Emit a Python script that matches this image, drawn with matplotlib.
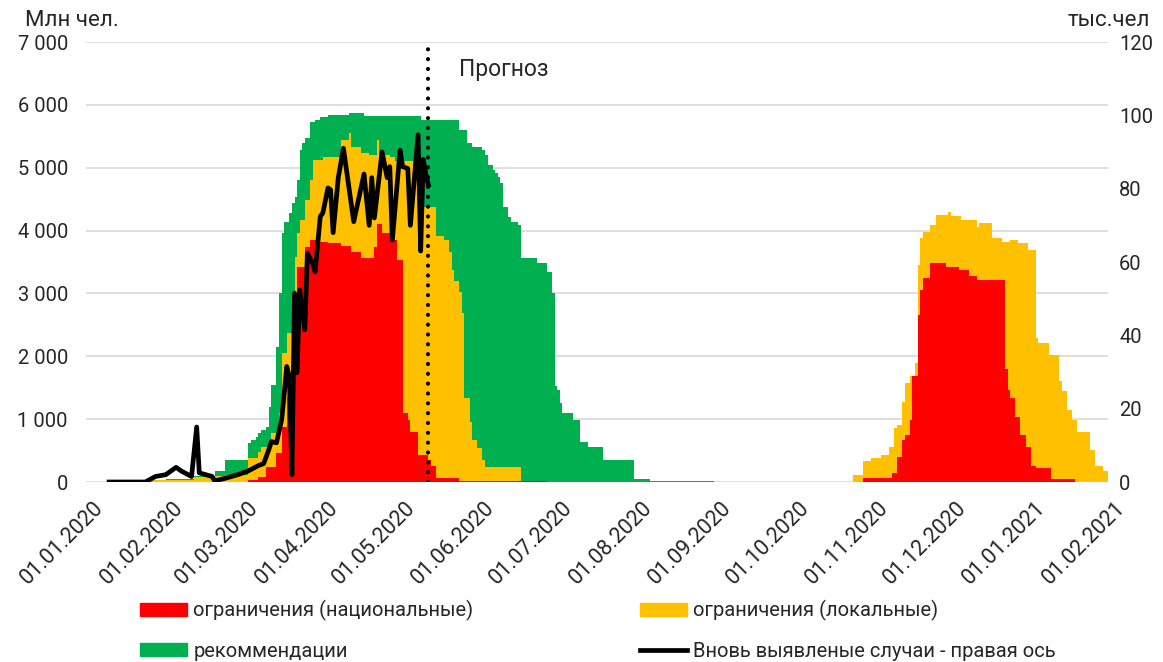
import numpy as np
import pandas as pd
import matplotlib
matplotlib.use('Agg')
import matplotlib.pyplot as plt
import matplotlib.transforms as mtransforms
from matplotlib.ticker import FuncFormatter
from matplotlib.patches import Patch
from matplotlib.lines import Line2D

plt.rcParams['font.family'] = ['Roboto', 'DejaVu Sans']

# верхняя граница красной области - ограничения (национальные), млн чел.
nat_dates = ['2020-03-04', '2020-03-08', '2020-03-11', '2020-03-15', '2020-03-17', '2020-03-19',
             '2020-03-21', '2020-03-23', '2020-03-26', '2020-03-28', '2020-04-01', '2020-04-04',
             '2020-04-09', '2020-04-13', '2020-04-17', '2020-04-22', '2020-04-23', '2020-04-25',
             '2020-04-28', '2020-05-01', '2020-05-03', '2020-05-05', '2020-05-06', '2020-05-09',
             '2020-05-13', '2020-05-14', '2020-05-16', '2020-05-25', '2020-06-28',
             '2020-10-29', '2020-11-09', '2020-11-11', '2020-11-13', '2020-11-14', '2020-11-16',
             '2020-11-17', '2020-11-19', '2020-11-20', '2020-11-21', '2020-11-24', '2020-11-30',
             '2020-12-05', '2020-12-09', '2020-12-12', '2020-12-23', '2020-12-24', '2020-12-25',
             '2020-12-27', '2020-12-29', '2020-12-31', '2021-01-02', '2021-01-04', '2021-01-10',
             '2021-01-19']
nat_top = [30, 80, 240, 460, 880, 1360, 2420, 3420, 3740, 3850, 3820, 3800, 3750, 3660, 3560,
           3740, 4100, 3960, 3850, 3530, 1100, 990, 800, 430, 350, 250, 70, 15, 0,
           70, 150, 400, 670, 750, 990, 1680, 2660, 3060, 3250, 3490, 3420, 3380, 3270, 3220,
           1790, 1470, 1340, 1040, 750, 560, 250, 230, 55, 0]

# верхняя граница желтой области - национальные + локальные ограничения
loc_dates = ['2020-01-25', '2020-02-12', '2020-02-20', '2020-02-24', '2020-03-04', '2020-03-08',
             '2020-03-09', '2020-03-13', '2020-03-16', '2020-03-17', '2020-03-19', '2020-03-21',
             '2020-03-22', '2020-03-23', '2020-03-24', '2020-03-26', '2020-03-28', '2020-03-29',
             '2020-04-02', '2020-04-09', '2020-04-12', '2020-04-13', '2020-04-17', '2020-04-20',
             '2020-04-23', '2020-04-24', '2020-04-28', '2020-04-30', '2020-05-11', '2020-05-16',
             '2020-05-19', '2020-05-21', '2020-05-22', '2020-05-23', '2020-05-25', '2020-05-26',
             '2020-05-27', '2020-05-29', '2020-05-30', '2020-06-01', '2020-06-03', '2020-06-04',
             '2020-06-18',
             '2020-10-25', '2020-10-29', '2020-11-01', '2020-11-05', '2020-11-08', '2020-11-10',
             '2020-11-11', '2020-11-13', '2020-11-14', '2020-11-16', '2020-11-18', '2020-11-19',
             '2020-11-20', '2020-11-21', '2020-11-24', '2020-11-26', '2020-12-01', '2020-12-02',
             '2020-12-06', '2020-12-12', '2020-12-13', '2020-12-18', '2020-12-22', '2020-12-25',
             '2020-12-28', '2021-01-01', '2021-01-04', '2021-01-05', '2021-01-09', '2021-01-13',
             '2021-01-14', '2021-01-16', '2021-01-18', '2021-01-20', '2021-01-25', '2021-01-27',
             '2021-01-30', '2021-02-01']
loc_top = [25, 80, 100, 110, 380, 480, 560, 780, 1100, 2050, 2370, 3000, 3580, 3960, 4170,
           4490, 4800, 5120, 5170, 5440, 5550, 5330, 5230, 5200, 5440, 5200, 5170, 5100, 4380,
           3920, 3850, 3660, 3380, 3190, 3030, 2690, 1340, 960, 670, 540, 350, 240, 0,
           110, 330, 380, 430, 560, 860, 910, 1280, 1570, 1680, 1890, 3450, 3880, 3980, 4090,
           4250, 4300, 4230, 4170, 4060, 4120, 3880, 3820, 3850, 3800, 3690, 2290, 2210, 2020,
           1600, 1440, 1150, 990, 800, 510, 250, 170, 0]

# верхняя граница зеленой области - всего (с рекомендациями)
rec_dates = ['2020-02-01', '2020-02-12', '2020-02-20', '2020-02-24', '2020-03-04', '2020-03-05',
             '2020-03-07', '2020-03-08', '2020-03-09', '2020-03-11', '2020-03-12', '2020-03-13',
             '2020-03-15', '2020-03-16', '2020-03-17', '2020-03-18', '2020-03-20', '2020-03-21',
             '2020-03-22', '2020-03-23', '2020-03-24', '2020-03-25', '2020-03-26', '2020-03-28',
             '2020-03-30', '2020-04-01', '2020-04-04', '2020-04-12', '2020-04-18', '2020-05-10',
             '2020-05-25', '2020-05-28', '2020-05-30', '2020-06-03', '2020-06-04', '2020-06-05',
             '2020-06-07', '2020-06-08', '2020-06-09', '2020-06-10', '2020-06-11', '2020-06-13',
             '2020-06-14', '2020-06-17', '2020-06-18', '2020-06-24', '2020-06-28', '2020-06-30',
             '2020-07-01', '2020-07-02', '2020-07-03', '2020-07-04', '2020-07-08', '2020-07-11',
             '2020-07-14', '2020-07-20', '2020-08-01', '2020-08-07', '2020-09-01']
rec_top = [40, 90, 170, 355, 625, 670, 720, 780, 830, 880, 1200, 1550, 2150, 3000, 3960, 4140,
           4280, 4440, 4540, 4810, 5280, 5390, 5470, 5730, 5760, 5810, 5840, 5870, 5830, 5760,
           5600, 5390, 5330, 5280, 5200, 5050, 4960, 4910, 4860, 4760, 4380, 4220, 4140, 4090,
           3560, 3480, 3340, 3000, 1520, 1470, 1260, 1100, 990, 640, 560, 355, 40, 15, 0]

# вновь выявленные случаи, тыс. чел. (правая ось)
case_dates = ['2020-01-10', '2020-01-24', '2020-01-28', '2020-02-01', '2020-02-05', '2020-02-07',
              '2020-02-11', '2020-02-13', '2020-02-14', '2020-02-19', '2020-02-20', '2020-02-24',
              '2020-02-29', '2020-03-04', '2020-03-08', '2020-03-10', '2020-03-12', '2020-03-13',
              '2020-03-15', '2020-03-17', '2020-03-18', '2020-03-19', '2020-03-20', '2020-03-21',
              '2020-03-22', '2020-03-23', '2020-03-24', '2020-03-26', '2020-03-27', '2020-03-29',
              '2020-03-30', '2020-04-01', '2020-04-02', '2020-04-04', '2020-04-05', '2020-04-06',
              '2020-04-08', '2020-04-10', '2020-04-14', '2020-04-18', '2020-04-20', '2020-04-21',
              '2020-04-22', '2020-04-25', '2020-04-27', '2020-04-28', '2020-04-29', '2020-05-02',
              '2020-05-03', '2020-05-05', '2020-05-06', '2020-05-09', '2020-05-10', '2020-05-11',
              '2020-05-12', '2020-05-13']
cases = [0, 0, 1.5, 2, 4, 3, 1.5, 15, 2.5, 1.5, 0.3, 1, 2, 3, 4.5, 5, 8.8, 11, 10.7, 17, 24,
         31.5, 28.7, 2, 51.5, 29.8, 52.4, 41.5, 62.4, 59.7, 57.3, 72.4, 73.4, 80.2, 79.7, 68, 83,
         91, 71, 84, 70, 83, 72, 90, 83, 86, 66, 90.5, 86, 85.5, 70, 94.7, 63, 88, 84, 81]

forecast_start = '2020-05-13'
month_ticks = pd.date_range('2020-01-01', '2021-02-01', freq='MS')
month_labels = [d.strftime('%d.%m.%Y') for d in month_ticks]

fig = plt.figure(figsize=(11.63, 6.62), dpi=100)
ax = fig.add_axes([86 / 1163, 1 - 482 / 662, (1108 - 86) / 1163, (482 - 42) / 662])
ax2 = ax.twinx()

for dates, top, color in [(rec_dates, rec_top, '#00B050'),
                          (loc_dates, loc_top, '#FFC000'),
                          (nat_dates, nat_top, '#FF0000')]:
    ax.fill_between(pd.to_datetime(dates), 0, top, step='post', color=color, linewidth=0)

ax2.plot(pd.to_datetime(case_dates), cases, color='black', lw=3.4, solid_joinstyle='round')
ax2.plot([pd.Timestamp(forecast_start)] * 2, [0, 118.3], color='black', lw=3,
         linestyle=(0, (0.01, 2.35)), dash_capstyle='round')
ax2.annotate('Прогноз', xy=(pd.Timestamp(forecast_start), 112.5), xytext=(22, 0),
             textcoords='offset points', ha='left', va='center', fontsize=16.5, color='#262626')

ax.set_xlim(pd.Timestamp('2020-01-01'), pd.Timestamp('2021-02-01'))
ax.set_ylim(0, 7000)
ax.set_yticks(range(0, 7001, 1000))
ax.yaxis.set_major_formatter(FuncFormatter(lambda v, p: f'{int(v):,}'.replace(',', ' ')))
ax2.set_ylim(0, 120)
ax2.set_yticks(range(0, 121, 20))

ax.set_axisbelow(True)
ax.grid(axis='y', color='#D9D9D9', lw=1.2)
for a in (ax, ax2):
    for s in a.spines.values():
        s.set_visible(False)
ax.tick_params(axis='y', length=0, pad=13, labelsize=14.5, labelcolor='#262626')
ax2.tick_params(axis='y', length=0, pad=8, labelsize=14.5, labelcolor='#262626')

ax.set_xticks(month_ticks)
ax.set_xticklabels(month_labels)
ax.tick_params(axis='x', length=0, pad=11, labelsize=15.5, labelcolor='#262626')
shift = mtransforms.ScaledTranslation(0.07, 0, fig.dpi_scale_trans)
for lab in ax.get_xticklabels():
    lab.set_rotation(45)
    lab.set_ha('right')
    lab.set_va('top')
    lab.set_rotation_mode('anchor')
    lab.set_transform(lab.get_transform() + shift)

fig.text(25 / 1163, 1 - 20 / 662, 'Млн чел.', fontsize=16, va='center', color='#262626')
fig.text(1068 / 1163, 1 - 20 / 662, 'тыс.чел', fontsize=16, va='center', color='#262626')

h_red = Patch(color='#FF0000')
h_yel = Patch(color='#FFC000')
h_grn = Patch(color='#00B050')
h_blk = Line2D([], [], color='black', lw=3.4)
common = dict(frameon=False, fontsize=14.5, handlelength=2.35, handleheight=0.6,
              handletextpad=0.3, labelspacing=1.02, borderpad=0, borderaxespad=0,
              loc='upper left', labelcolor='#262626')
leg1 = fig.legend([h_red, h_grn], ['ограничения (национальные)', 'рекоммендации'],
                  bbox_to_anchor=(140 / 1163, 1 - 600 / 662), **common)
leg2 = fig.legend([h_yel, h_blk], ['ограничения (локальные)',
                                   'Вновь выявленые случаи - правая ось'],
                  bbox_to_anchor=(640 / 1163, 1 - 600 / 662), **common)

fig.savefig('out.png', dpi=100)
